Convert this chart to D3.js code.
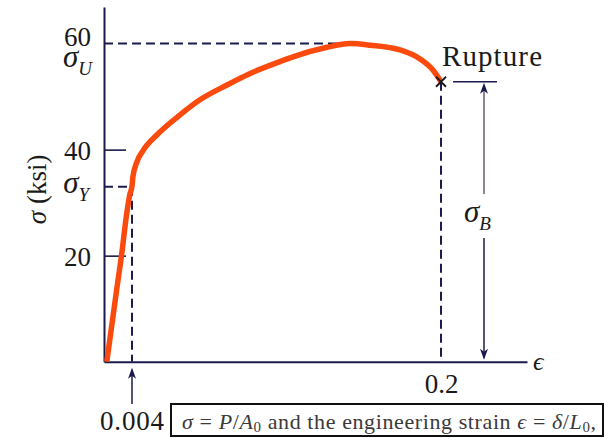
<!DOCTYPE html>
<html><head><meta charset="utf-8">
<script src="https://cdn.jsdelivr.net/npm/d3@7/dist/d3.min.js"></script>
<style>
body{margin:0;background:#fff}
svg{display:block}
</style>
</head><body>
<svg id="chart" width="605" height="438" font-family="'Liberation Serif', 'Times New Roman', 'DejaVu Serif', serif"></svg>
<script>
// ---- data ----
const strain = [0.0004, 0.0018, 0.0025, 0.0032, 0.0037, 0.0040, 0.0046, 0.0070, 0.0112, 0.0199,
                0.0326, 0.0471, 0.0643, 0.0807, 0.0979, 0.1061, 0.1277, 0.1423, 0.1550, 0.1740,
                0.1867, 0.1949, 0.2000];
const stress = [0, 13.5, 20, 27.5, 31.6, 33.1, 34.9, 37.6, 39.9, 42.8,
                46.1, 49.4, 52.2, 54.6, 56.6, 57.5, 59.3, 60.0, 59.7, 58.8,
                57.1, 55.0, 52.8];
const yTickValues = [20, 40];
const xTickValues = [0.2];
const yieldStrain = 0.004, yieldStress = 33;
const ultimateStrain = 0.1423, ultimateStress = 60;
const ruptureStrain = 0.2, ruptureStress = 52.8;
const yAxisTitle = ["σ", " (ksi)"];
const xAxisTitle = "ϵ";
const ruptureLabel = "Rupture";
const yieldTickLabel = "0.004";

// ---- scales ----
const svg = d3.select("#chart");
const serif = "'Liberation Serif', 'Times New Roman', 'DejaVu Serif', serif";
const x = d3.scaleLinear().domain([0, 0.004, 0.2, 0.2545]).range([104, 132, 441, 527]);
const y = d3.scaleLinear().domain([0, 66.9]).range([361.7, 7]);
const navy = "#1b1b4d";
const ink = "#1a1a1a";

// ---- axes ----
const yAxis = d3.axisLeft(y).tickValues(yTickValues).tickSizeInner(-22).tickSizeOuter(0).tickPadding(13);
const gy = svg.append("g").attr("transform", `translate(${x(0)},0)`).call(yAxis).attr("font-family", serif);
gy.select(".domain").attr("stroke", navy).attr("stroke-width", 2);
gy.selectAll(".tick line").attr("stroke", navy).attr("stroke-width", 1.6);
gy.selectAll(".tick text").attr("font-size", 27).attr("fill", ink).attr("dy", "0.36em");

const xAxis = d3.axisBottom(x).tickValues(xTickValues).tickSize(0).tickPadding(12).tickFormat(d3.format(".1f"));
const gx = svg.append("g").attr("transform", `translate(0,${y(0)})`).call(xAxis).attr("font-family", serif);
gx.select(".domain").attr("stroke", navy).attr("stroke-width", 2);
gx.selectAll(".tick text").attr("font-size", 27).attr("fill", ink);

// extra "60" label at ultimate stress
svg.append("text").attr("x", 91).attr("y", y(ultimateStress) + 2).attr("text-anchor", "end")
  .attr("font-size", 27).attr("fill", ink).text(d3.format("d")(ultimateStress));

// epsilon axis title
svg.append("text").attr("x", x(0.2545) + 6).attr("y", y(0) + 8).attr("font-size", 26)
  .attr("font-style", "italic").attr("fill", ink).text(xAxisTitle);

// y axis title
svg.append("text").attr("transform", `translate(46,${y(32.5)}) rotate(-90)`).attr("text-anchor", "middle")
  .attr("font-size", 27).attr("fill", ink)
  .call(t => { t.append("tspan").attr("font-style", "italic").text(yAxisTitle[0]);
               t.append("tspan").text(yAxisTitle[1]); });

// ---- dashed guide lines ----
const dash = "9,5";
function dline(x1, y1, x2, y2) {
  svg.append("line").attr("x1", x1).attr("y1", y1).attr("x2", x2).attr("y2", y2)
    .attr("stroke", navy).attr("stroke-width", 2).attr("stroke-dasharray", dash);
}
dline(x(0), y(ultimateStress), x(ultimateStrain), y(ultimateStress));
dline(x(0), y(yieldStress), x(yieldStrain), y(yieldStress));
dline(x(yieldStrain), y(yieldStress), x(yieldStrain), y(0));
dline(x(ruptureStrain), y(ruptureStress), x(ruptureStrain), y(0));

// ---- sigma labels ----
function sigmaLabel(xr, yb, sub, anchor) {
  const t = svg.append("text").attr("x", xr).attr("y", yb).attr("text-anchor", anchor)
    .attr("fill", ink).attr("font-style", "italic");
  t.append("tspan").attr("font-size", 31).text("σ");
  t.append("tspan").attr("font-size", 19).attr("dy", 8).text(sub);
}
sigmaLabel(92, y(ultimateStress) + 23, "U", "end");
sigmaLabel(89, y(yieldStress) + 6, "Y", "end");
sigmaLabel(464, 222, "B", "start");

// ---- arrows ----
function arrowHead(px, py, dir) { // dir: -1 up, 1 down
  svg.append("path")
    .attr("d", `M${px},${py} L${px - 4},${py - dir * 11} L${px},${py - dir * 8} L${px + 4},${py - dir * 11} Z`)
    .attr("fill", navy);
}
// 0.004 arrow
svg.append("line").attr("x1", x(yieldStrain)).attr("x2", x(yieldStrain)).attr("y1", 404).attr("y2", y(0) + 8)
  .attr("stroke", navy).attr("stroke-width", 1.5);
arrowHead(x(yieldStrain), y(0) + 6, -1);
svg.append("text").attr("x", x(yieldStrain)).attr("y", 430).attr("text-anchor", "middle")
  .attr("font-size", 27).attr("fill", ink).attr("textLength", 64).attr("lengthAdjust", "spacing").text(yieldTickLabel);

// sigma_B dimension arrow
const bx = 484;
svg.append("line").attr("x1", 453).attr("x2", 497).attr("y1", y(ruptureStress)).attr("y2", y(ruptureStress))
  .attr("stroke", navy).attr("stroke-width", 1.6);
svg.append("line").attr("x1", bx).attr("x2", bx).attr("y1", y(ruptureStress) + 4).attr("y2", 194)
  .attr("stroke", "#6a5a70").attr("stroke-width", 1.5);
svg.append("line").attr("x1", bx).attr("x2", bx).attr("y1", 238).attr("y2", y(0) - 4)
  .attr("stroke", navy).attr("stroke-width", 1.5);
arrowHead(bx, y(ruptureStress) + 1, -1);
arrowHead(bx, y(0) - 2, 1);

// ---- stress-strain curve ----
const pts = strain.map((s, i) => [s, stress[i]]);
svg.append("path").datum(pts)
  .attr("d", d3.line().x(d => x(d[0])).y(d => y(d[1])).curve(d3.curveMonotoneX))
  .attr("fill", "none").attr("stroke", "#fb4a0e").attr("stroke-width", 5.5).attr("stroke-linecap", "butt")
  .attr("stroke-linejoin", "round");

// rupture cross
const rx = x(ruptureStrain), ry = y(ruptureStress);
svg.append("path").attr("d", `M${rx - 5},${ry - 5}L${rx + 5},${ry + 5}M${rx - 5},${ry + 5}L${rx + 5},${ry - 5}`)
  .attr("stroke", ink).attr("stroke-width", 1.8);
svg.append("text").attr("x", rx + 1).attr("y", 66).attr("font-size", 29).attr("fill", ink)
  .attr("textLength", 100).attr("lengthAdjust", "spacing").text(ruptureLabel);

// ---- caption box ----
svg.append("rect").attr("x", 171).attr("y", 404).attr("width", 432).attr("height", 32)
  .attr("fill", "#fff").attr("stroke", "#111").attr("stroke-width", 2);
const cap = svg.append("text").attr("x", 182).attr("y", 429).attr("font-size", 22).attr("fill", "#3a3a3a")
  .attr("textLength", 414).attr("lengthAdjust", "spacing");
const parts = [["σ", "i"], [" = ", ""], ["P", "i"], ["/", ""], ["A", "i"], ["0", "s"],
               [" and the engineering strain ", ""], ["ϵ", "i"], [" = ", ""], ["δ", "i"], ["/", ""], ["L", "i"], ["0", "s"], [",", ""]];
let prevSub = false;
parts.forEach(([t, k]) => {
  const ts = cap.append("tspan").text(t);
  if (k === "i") ts.attr("font-style", "italic");
  if (k === "s") { ts.attr("font-size", 15).attr("dy", 3); prevSub = true; }
  else if (prevSub) { ts.attr("dy", -3); prevSub = false; }
});
</script>
</body></html>
